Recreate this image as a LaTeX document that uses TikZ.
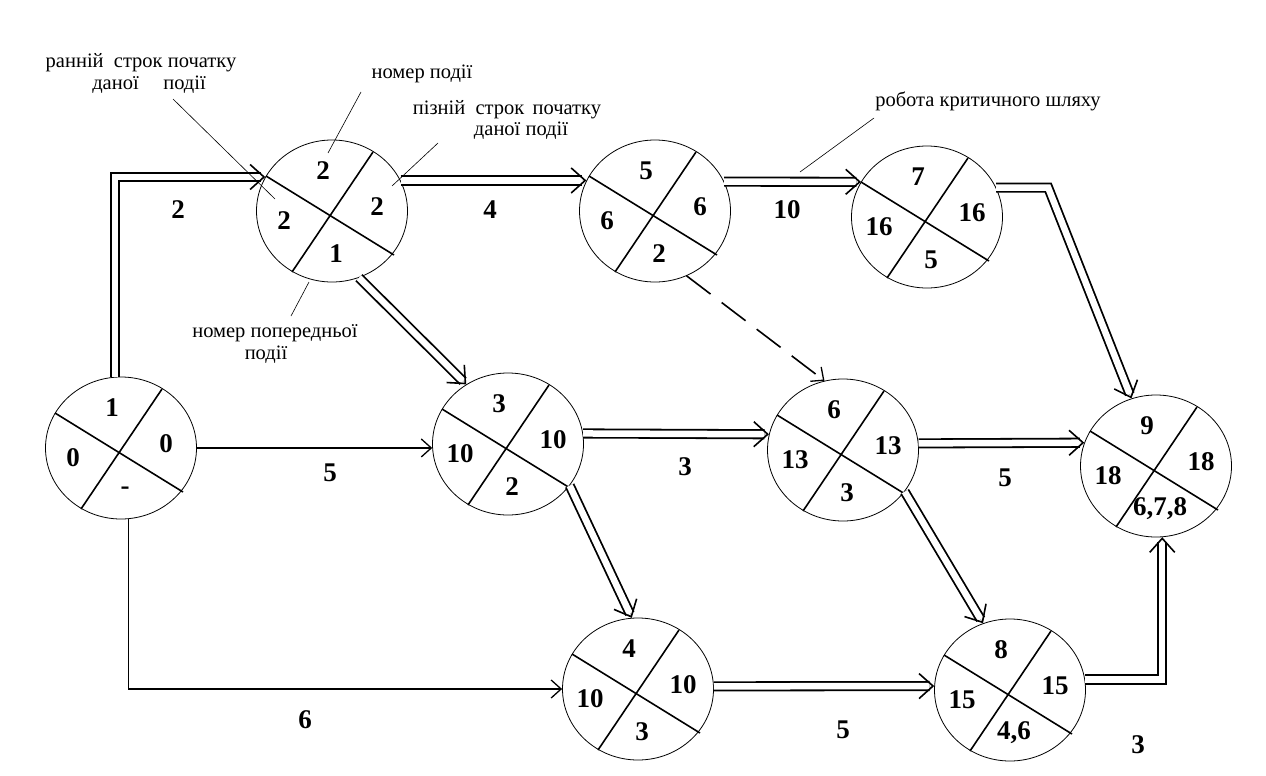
\documentclass[tikz,border=0pt]{standalone}
\usepackage{fontspec}
\setmainfont{Liberation Serif}
\usetikzlibrary{shapes.geometric,arrows.meta,calc}
\tikzset{
  ev/.style={ellipse, draw, line width=0.8pt, minimum width=151pt, minimum height=142pt, inner sep=0pt},
  crossline/.style={line width=1.6pt},
  num/.style={font=\fontsize{27}{27}\selectfont\bfseries, inner sep=0pt},
  wlabel/.style={font=\fontsize{27}{27}\selectfont\bfseries, inner sep=0pt},
  ann/.style={font=\fontsize{20.5}{20.5}\selectfont, inner sep=0pt},
  leader/.style={line width=0.6pt},
  crit/.style={double, double distance=6.5pt, line width=1.8pt, shorten >=4.5pt},
  tiponly/.style={line width=0.01pt, -{Straight Barb[length=14pt,width=25pt,line width=1.6pt]}},
  plainarr/.style={line width=1.6pt, -{Straight Barb[length=10pt,width=18pt,line width=1.3pt]}},
  dummyarr/.style={plainarr, dash pattern=on 30pt off 14pt},
}
\newcommand\EventNode[6]{%
  \node[ev] (#1) at (#2) {};
  \draw[crossline] ($(#1.center)+(-66,-35)$) -- ($(#1.center)+(62,44)$);
  \draw[crossline] ($(#1.center)+(41,-59)$) -- ($(#1.center)+(-40,61)$);
  \node[num] (#1t) at ($(#1.center)+(-9,-40)$) {#3};
  \node[num] (#1l) at ($(#1.center)+(-48,10)$) {#4};
  \node[num] (#1r) at ($(#1.center)+(45,-4)$) {#5};
  \node[num] (#1b) at ($(#1.center)+(4,43)$) {#6};
}
% double connector with open tip: #1 = last waypoint, #2 = end point
\newcommand\CritTip[2]{\draw[tiponly] ($(#2)!4pt!(#1)$) -- (#2);}
\begin{document}
\begin{tikzpicture}[x=1pt,y=-1pt]
\useasboundingbox[fill=white] (0,0) rectangle (1266,776);

\EventNode{n1}{121,448}{1}{0}{0}{-}
\EventNode{n2}{332,211}{2}{2}{2}{1}
\EventNode{n5}{655,211}{5}{6}{6}{2}
\EventNode{n7}{927,217}{7}{16}{16}{5}
\EventNode{n3}{508,444}{3}{10}{10}{2}
\EventNode{n6}{843,450}{6}{13}{13}{3}
\EventNode{n9}{1156,466}{9}{18}{18}{6,7,8}
\EventNode{n4}{638,689}{4}{10}{10}{3}
\EventNode{n8}{1010,690}{8}{15}{15}{4,6}

% waypoints of bent connectors
\coordinate (k12) at (n1.95 |- n2.153);
\coordinate (k79) at ($(n7.23)+(52,0)$);
\coordinate (k89) at (n8.8 -| n9.275);

% critical (double) connectors
\draw[crit] (n1.95) -- (k12) -- (n2.153);   \CritTip{k12}{n2.153}
\draw[crit] (n2.24) -- (n5.156);            \CritTip{n2.24}{n5.156}
\draw[crit] (n5.23) -- (n7.152);            \CritTip{n5.23}{n7.152}
\draw[crit] (n7.23) -- (k79) -- (n9.110);   \CritTip{k79}{n9.110}
\draw[crit] (n2.292) -- (n3.125);           \CritTip{n2.292}{n3.125}
\draw[crit] (n3.8) -- (n6.168);             \CritTip{n3.8}{n6.168}
\draw[crit] (n6.5) -- (n9.162);             \CritTip{n6.5}{n9.162}
\draw[crit] (n3.326) -- (n4.95);            \CritTip{n3.326}{n4.95}
\draw[crit] (n6.326) -- (n8.112);           \CritTip{n6.326}{n8.112}
\draw[crit] (n4.2) -- (n8.177);             \CritTip{n4.2}{n8.177}
\draw[crit] (n8.8) -- (k89) -- (n9.275);    \CritTip{k89}{n9.275}

% non-critical connectors
\draw[plainarr] (n1.east) -- (n3.183);
\draw[plainarr] (n1.276) |- (n4.west);
\draw[dummyarr] (n5.296) -- (n6.105);

% durations
\node[wlabel] (w12) at (178,210) {2};
\node[wlabel] (w25) at (490,210) {4};
\node[wlabel] (w57) at (787,210) {10};
\node[wlabel] (w13) at (330,473) {5};
\node[wlabel] (w36) at (685,467) {3};
\node[wlabel] (w69) at (1005,478) {5};
\node[wlabel] (w14) at (305,720) {6};
\node[wlabel] (w48) at (843,730) {5};
\node[wlabel] (w89) at (1138,745) {3};

% annotations
\node[ann] (a1a) at (141,63) {ранній\hspace{0.5em}строк початку};
\node[ann] (a1b) at (149,85) {даної\hspace{1.2em}події};
\node[ann] (a2) at (422,74) {номер події};
\node[ann] (a3a) at (507,110) {пізній\hspace{0.5em}строк\hspace{0.4em}початку};
\node[ann] (a3b) at (521,131) {даної події};
\node[ann] (a4) at (988,101) {робота критичного шляху};
\node[ann] (a5a) at (275,333) {номер попередньої};
\node[ann] (a5b) at (266,355) {події};

% leader lines
\coordinate (l1s) at (173,99);  \coordinate (l1e) at (275,199);
\coordinate (l2s) at (361,92);  \coordinate (l2e) at (328,153);
\coordinate (l3s) at (438,143); \coordinate (l3e) at (392,186);
\coordinate (l4s) at (309,282); \coordinate (l4e) at (291,316);
\coordinate (l5s) at (874,118); \coordinate (l5e) at (800,172);
\draw[leader] (l1s) -- (l1e);
\draw[leader] (l2s) -- (l2e);
\draw[leader] (l3s) -- (l3e);
\draw[leader] (l4s) -- (l4e);
\draw[leader] (l5s) -- (l5e);
\end{tikzpicture}
\end{document}
